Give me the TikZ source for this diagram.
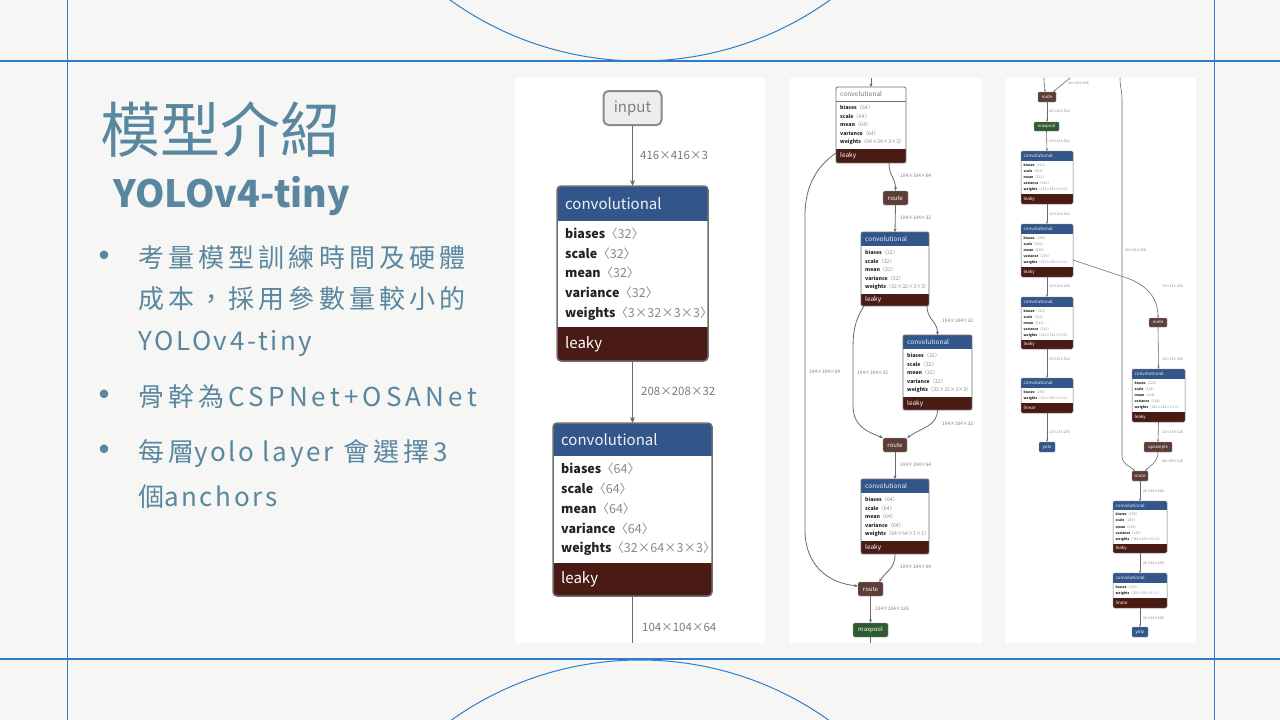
\documentclass[tikz,border=0pt]{standalone}
\usepackage{fontspec}
\setmainfont{Noto Sans CJK TC}
\newfontfamily\cjkspaced{Noto Sans CJK TC}[LetterSpace=16]
\newfontfamily\latsp{Noto Sans CJK TC}[LetterSpace=10]
\usetikzlibrary{arrows.meta,calc,fit}

\definecolor{bg}{HTML}{F6F6F4}
\definecolor{framec}{HTML}{2F7DC8}
\definecolor{titlec}{HTML}{5A87A0}
\definecolor{convblue}{HTML}{32568A}
\definecolor{leakc}{HTML}{4A1B15}
\definecolor{routec}{HTML}{5C3E37}
\definecolor{poolc}{HTML}{2F5B30}
\definecolor{edgec}{HTML}{6A6A6A}
\definecolor{lblc}{HTML}{7A7A7A}
\definecolor{dimc}{HTML}{8A8A8A}
\definecolor{namec}{HTML}{222222}
\definecolor{boxline}{HTML}{707070}

\def\padA{8}\def\padB{4}\def\padC{2.5}
\def\radA{4}\def\radB{2}\def\radC{1.5}
\def\parsegeom#1,#2,#3,#4,#5,#6\relax{\def\gxa{#1}\def\gya{#2}\def\gxb{#3}\def\gyh{#4}\def\gyl{#5}\def\gyb{#6}}
\newcommand\bl[2]{\textbf{#1}\textcolor{dimc}{〈#2〉}}
\newcommand\fiveb[2]{\bl{biases}{#1}\\\bl{scale}{#1}\\\bl{mean}{#1}\\\bl{variance}{#1}\\\bl{weights}{#2}}
\newcommand\cbox[6]{%
 \parsegeom#2\relax
 \pgfmathsetmacro\gyhm{(\gya+\gyh)/2}%
 \pgfmathsetmacro\gybm{(\gyh+\gyl)/2}%
 \pgfmathsetmacro\gyfm{(\gyl+\gyb)/2}%
 \pgfmathsetmacro\gxt{\gxa+\csname pad#3\endcsname}%
 \node[fit={(\gxa,\gya) (\gxb,\gyb)}, inner sep=0, outer sep=0] (#1) {};
 \begin{scope}
  \clip[rounded corners=\csname rad#3\endcsname pt] (\gxa,\gya) rectangle (\gxb,\gyb);
  \fill[#4fill] (\gxa,\gya) rectangle (\gxb,\gyh);
  \fill[white] (\gxa,\gyh) rectangle (\gxb,\gyl);
  \fill[leakc] (\gxa,\gyl) rectangle (\gxb,\gyb);
 \end{scope}
 \draw[#4sep] (\gxa,\gyh) -- (\gxb,\gyh);
 \draw[box#3] (\gxa,\gya) rectangle (\gxb,\gyb);
 \node[htxt#3, #4txt, anchor=west] (#1h) at (\gxt,\gyhm) {convolutional};
 \node[btxt#3, anchor=west] (#1b) at (\gxt,\gybm) {#5};
 \node[htxt#3, text=white, anchor=west] (#1f) at (\gxt,\gyfm) {#6};
}

\tikzset{
 bluefill/.style={fill=convblue},
 whitefill/.style={fill=white},
 bluetxt/.style={text=white!92!convblue},
 whitetxt/.style={text=black!55},
 bluesep/.style={draw=none},
 whitesep/.style={draw=boxline, line width=0.6pt},
 boxA/.style={draw=boxline, line width=1.5pt, rounded corners=4pt},
 boxB/.style={draw=boxline, line width=0.8pt, rounded corners=2pt},
 boxC/.style={draw=boxline, line width=0.5pt, rounded corners=1.5pt},
 htxtA/.style={font=\fontsize{15}{18}\selectfont, inner sep=0},
 htxtB/.style={font=\fontsize{6.5}{8}\selectfont, inner sep=0},
 htxtC/.style={font=\fontsize{4.5}{5.5}\selectfont, inner sep=0},
 btxtA/.style={font=\fontsize{12.5}{19.7}\selectfont, inner sep=0, align=left, text=namec},
 btxtB/.style={font=\fontsize{5.2}{8.5}\selectfont, inner sep=0, align=left, text=namec},
 btxtC/.style={font=\fontsize{3.4}{6.2}\selectfont, inner sep=0, align=left, text=namec},
 lblA/.style={font=\fontsize{11.5}{13}\selectfont, text=lblc, inner sep=0, anchor=west},
 lblB/.style={font=\fontsize{4.8}{6}\selectfont, text=lblc, inner sep=0, anchor=west},
 lblC/.style={font=\fontsize{3.5}{4.5}\selectfont, text=lblc, inner sep=0, anchor=west},
 eA/.style={draw=edgec, line width=1.6pt, -{Stealth[length=6pt,width=5pt]}},
 eB/.style={draw=edgec, line width=0.8pt, -{Stealth[length=3.5pt,width=3pt]}},
 eC/.style={draw=edgec, line width=0.6pt, -{Stealth[length=2.5pt,width=2pt]}},
 smallB/.style={rounded corners=1.5pt, inner sep=0, font=\fontsize{6}{7}\selectfont, text=white, minimum height=14pt, draw=black!40, line width=0.4pt},
 smallC/.style={rounded corners=1pt, inner sep=0, font=\fontsize{4.3}{5}\selectfont, text=white, minimum height=10pt, draw=black!40, line width=0.3pt},
 slidetxt/.style={anchor=base west, inner sep=0, text=titlec, font=\cjkspaced\fontsize{26}{30}\selectfont},
 bulletdot/.style={anchor=base, inner sep=0, text=titlec, font=\fontsize{40}{44}\selectfont},
}

\begin{document}
\begin{tikzpicture}[x=1pt,y=-1pt]
\fill[bg] (0,0) rectangle (1280,720);
\useasboundingbox (0,0) rectangle (1280,720);
\begin{scope}
 \clip (0,0) rectangle (1280,720);
 \draw[framec, line width=1pt] (640,-265) circle[radius=326pt];
 \draw[framec, line width=1pt] (640,986) circle[radius=326pt];
\end{scope}
\draw[framec, line width=1.5pt] (0,61) -- (1280,61);
\draw[framec, line width=1.5pt] (0,659) -- (1280,659);
\draw[framec, line width=0.8pt] (67,0) -- (67,720);
\draw[framec, line width=0.8pt] (1214,0) -- (1214,720);

% slide text
\node[anchor=base west, inner sep=0, text=titlec, font=\fontsize{60}{70}\selectfont] (title) at (100,152) {模型介紹};
\node[anchor=base west, inner sep=0, text=titlec, font=\bfseries\fontsize{37.5}{45}\selectfont] (subtitle) at (113,207) {YOLOv4-tiny};
\node[bulletdot] (b1) at (104,270) {•};
\node[bulletdot] (b2) at (104,409) {•};
\node[bulletdot] (b3) at (104,464) {•};
\node[slidetxt] (t1) at (138,267) {考量模型訓練時間及硬體};
\node[slidetxt] (t2) at (138,308.5) {成本，採用參數量較小的};
\node[slidetxt] (t3) at (138,350) {\latsp YOLOv4-tiny};
\node[slidetxt] (t4) at (138,406) {骨幹為CSPNet+OSANet};
\node[slidetxt] (t5) at (138,461) {每層{\latsp yolo layer} 會選擇3};
\node[slidetxt] (t6) at (138,506) {個{\latsp anchors}};

% panels
\fill[white] (515,78) rectangle (765,643);
\fill[white] (790,78) rectangle (982,643);
\fill[white] (1006,78) rectangle (1196,643);

% ---------- panel 1
\node[draw=black!45, line width=2pt, fill=black!7, rounded corners=5pt, minimum width=58pt, minimum height=34pt, inner sep=0, text=black!50, font=\fontsize{15}{18}\selectfont] (inp) at (632.5,108) {input};
\cbox{c1}{557,186,708,221,327,361}{A}{blue}{\fiveb{32}{3×32×3×3}}{leaky}
\cbox{c2}{553,423,712,456,563,596}{A}{blue}{\fiveb{64}{32×64×3×3}}{leaky}
\coordinate (p1end) at (632.5,643);
\draw[eA] (inp.south) -- (c1.north);
\draw[eA] (c1.south) -- (c2.north);
\draw[eA, -] (c2.south) -- (p1end);
\node[lblA] (l1) at (640,155) {416×416×3};
\node[lblA] (l2) at (641,391) {208×208×32};
\node[lblA] (l3) at (642,627) {104×104×64};

% ---------- panel 2
\coordinate (p2top) at (871,78);
\coordinate (p2end) at (870.5,643);
\cbox{cA}{836,87,906,101,149,163}{B}{white}{\fiveb{64}{64×64×3×3}}{leaky}
\node[smallB, fill=routec, minimum width=25pt] (r1) at (895.5,198) {route};
\cbox{cB}{861,232,929,246,294,306}{B}{blue}{\fiveb{32}{32×32×3×3}}{leaky}
\cbox{cC}{903,335,972,349,397,410}{B}{blue}{\fiveb{32}{32×32×3×3}}{leaky}
\node[smallB, fill=routec, minimum width=24pt] (r2) at (895,445) {route};
\cbox{cD}{861,479,929,493,541,554}{B}{blue}{\fiveb{64}{64×64×1×1}}{leaky}
\node[smallB, fill=routec, minimum width=25pt] (r3) at (870.5,589) {route};
\node[smallB, fill=poolc, minimum width=35pt] (mp) at (870.5,630) {maxpool};

\draw[eB] (p2top) -- (cA.north);
\draw[eB] ($(cA.south east)+(-17,0)$) .. controls +(0,14) and +(0,-14) .. (r1.north);
\draw[eB] (r1.south) -- (cB.north);
\draw[eB] ($(cB.south east)+(-2,0)$) .. controls +(0,14) and +(0,-14) .. (cC.north);
\draw[eB] ($(cB.south west)+(3,0)$) .. controls +(-10,16) and +(0,-20) .. (853,352) -- (853,405) .. controls +(0,22) and +(-15,-6) .. (r2.north west);
\draw[eB] (cC.south) .. controls +(0,16) and +(14,-10) .. (r2.north east);
\draw[eB] (r2.south) -- (cD.north);
\draw[eB] (cD.south) .. controls +(0,15) and +(8,-12) .. ($(r3.north east)+(-4,0)$);
\draw[eB] ($(cA.south west)+(0,-10)$) .. controls +(-22,15) and +(0,-25) .. (805,215) -- (805,530) .. controls +(0,35) and +(-30,-3) .. ($(r3.west)+(0,-3)$);
\draw[eB] (r3.south) -- (mp.north);
\draw[eB, -] (mp.south) -- (p2end);

\node[lblB] (m1) at (900,176) {104×104×64};
\node[lblB] (m2) at (900,218) {104×104×32};
\node[lblB] (m3) at (942,321) {104×104×32};
\node[lblB] (m4) at (857,373) {104×104×32};
\node[lblB] (m5) at (809,372) {104×104×64};
\node[lblB] (m6) at (942,424) {104×104×32};
\node[lblB] (m7) at (900,465) {104×104×64};
\node[lblB] (m8) at (900,567) {104×104×64};
\node[lblB] (m9) at (875,609) {104×104×128};

% ---------- panel 3
\coordinate (q1) at (1044,78);
\coordinate (q2) at (1070,78);
\coordinate (q3) at (1120,78);
\node[smallC, fill=routec, minimum width=18pt] (r4) at (1047,97) {route};
\node[smallC, fill=poolc, minimum width=25pt, minimum height=9pt] (mp2) at (1046.5,126.5) {maxpool};
\cbox{cE}{1021,151,1073,161,194,204}{C}{blue}{\fiveb{512}{512×512×3×3}}{leaky}
\cbox{cF}{1021,224,1073,234,267,277}{C}{blue}{\fiveb{256}{512×256×1×1}}{leaky}
\cbox{cH}{1021,297,1073,307,340,349}{C}{blue}{\fiveb{512}{256×512×3×3}}{leaky}
\cbox{cI}{1021,378,1073,388,403,413}{C}{blue}{\bl{biases}{255}\\\bl{weights}{512×255×1×1}}{linear}
\node[smallC, fill=convblue, minimum width=16pt] (y1) at (1047,447) {yolo};
\node[smallC, fill=routec, minimum width=18pt, minimum height=9pt] (r5) at (1158,322.5) {route};
\cbox{cG}{1132,369,1185,379,412,422}{C}{blue}{\fiveb{128}{256×128×1×1}}{leaky}
\node[smallC, fill=routec, minimum width=28pt] (up) at (1158,447) {upsample};
\node[smallC, fill=routec, minimum width=16pt] (r6) at (1140,476) {route};
\cbox{cJ}{1113,501,1167,510,544,553}{C}{blue}{\fiveb{256}{384×256×3×3}}{leaky}
\cbox{cK}{1113,573,1167,583,598,608}{C}{blue}{\bl{biases}{255}\\\bl{weights}{256×255×1×1}}{linear}
\node[smallC, fill=convblue, minimum width=16pt] (y2) at (1140,632) {yolo};

\draw[eC] (q1) .. controls +(0,8) and +(0,-6) .. ($(r4.north)+(-2,0)$);
\draw[eC] (q2) -- ($(r4.north east)+(-3,0)$);
\draw[eC] (r4.south) -- (r4.south |- mp2.north);
\draw[eC] (mp2.south) -- (cE.north);
\draw[eC] (cE.south) -- (cF.north);
\draw[eC] (cF.south) -- (cH.north);
\draw[eC] (cH.south) -- (cI.north);
\draw[eC] (cI.south) -- (y1.north);
\draw[eC] ($(cF.south east)+(0,-17)$) -- (1127,278) .. controls +(22,8) and +(0,-18) .. (r5.north);
\draw[eC] (r5.south) -- (cG.north);
\draw[eC] (cG.south) -- (up.north);
\draw[eC] (up.south) .. controls +(0,10) and +(6,-6) .. ($(r6.north east)+(-3,0)$);
\draw[eC] (q3) .. controls +(0,10) and +(0,-10) .. (1122,100) -- (1122,455) .. controls +(0,10) and +(-6,-6) .. ($(r6.north west)+(3,0)$);
\draw[eC] (r6.south) -- (cJ.north);
\draw[eC] (cJ.south) -- (cK.north);
\draw[eC] (cK.south) -- (y2.north);

\node[lblC] (n1) at (1068,83) {26×26×256};
\node[lblC] (n2) at (1049,111) {26×26×512};
\node[lblC] (n3) at (1049,141) {13×13×512};
\node[lblC] (n4) at (1049,214) {13×13×512};
\node[lblC] (n5) at (1049,286) {13×13×256};
\node[lblC] (n6) at (1049,359) {13×13×512};
\node[lblC] (n7) at (1049,432) {13×13×255};
\node[lblC] (n8) at (1125,250) {26×26×256};
\node[lblC] (n9) at (1162,286) {13×13×256};
\node[lblC] (n10) at (1162,359) {13×13×256};
\node[lblC] (n11) at (1162,432) {13×13×128};
\node[lblC] (n12) at (1162,461) {26×26×128};
\node[lblC] (n13) at (1143,491) {26×26×384};
\node[lblC] (n14) at (1143,563) {26×26×256};
\node[lblC] (n15) at (1143,618) {26×26×255};
\end{tikzpicture}
\end{document}
